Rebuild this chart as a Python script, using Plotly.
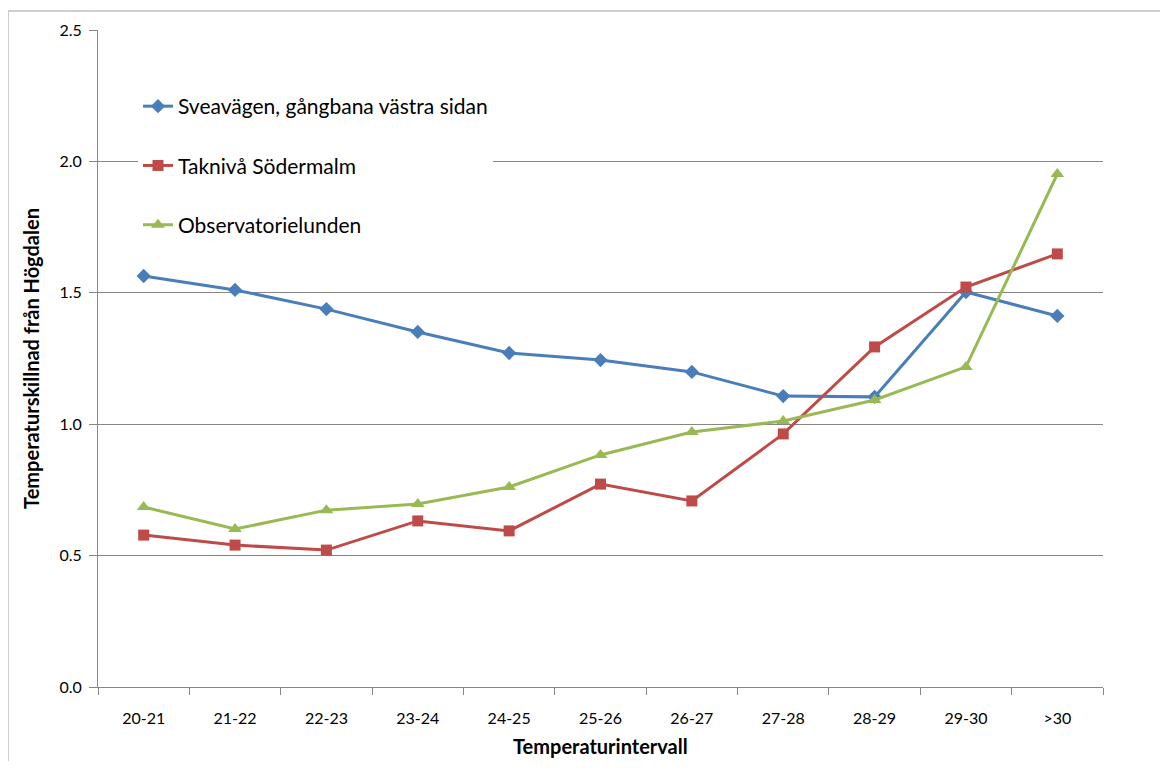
import plotly.graph_objects as go

categories = ["20-21", "21-22", "22-23", "23-24", "24-25", "25-26", "26-27", "27-28", "28-29", "29-30", ">30"]
svea = [1.564, 1.511, 1.438, 1.351, 1.271, 1.244, 1.199, 1.107, 1.104, 1.503, 1.412]
takniva = [0.578, 0.540, 0.521, 0.632, 0.594, 0.772, 0.708, 0.963, 1.294, 1.522, 1.648]
observ = [0.685, 0.601, 0.673, 0.696, 0.761, 0.883, 0.970, 1.012, 1.092, 1.218, 1.952]
y_ticks = [0.0, 0.5, 1.0, 1.5, 2.0, 2.5]
x_title = "Temperaturintervall"
y_title = "Temperaturskillnad från Högdalen"

# page body has an 8px margin on every side
OFF = 8
W, H = 1168 - 2 * OFF, 769 - 2 * OFF
L, T = 98 - OFF, 30 - OFF
R = (1168 - OFF) - 1103
B = (769 - OFF) - 687
pw, ph = W - L - R, H - T - B


def px_x(sx):
    return (sx - OFF - L) / pw


def px_y(sy):
    return (H - B - (sy - OFF)) / ph


FONT = "Lato, Carlito, 'Liberation Sans', sans-serif"

fig = go.Figure()
series = [
    ("Sveavägen, gångbana västra sidan", svea, "#4A7EBB", "diamond", 11),
    ("Taknivå Södermalm", takniva, "#BE4B48", "square", 11),
    ("Observatorielunden", observ, "#98B954", "triangle-up", 12),
]
for i, (name, vals, col, sym, sz) in enumerate(series):
    fig.add_trace(go.Scatter(
        x=categories, y=vals, name=name, mode="lines+markers",
        legendgroup=f"g{i}",
        line=dict(color=col, width=3),
        marker=dict(symbol=sym, size=sz, color=col),
    ))

fig.add_shape(type="rect", xref="paper", yref="paper",
              x0=px_x(8), x1=px_x(1190),
              y0=px_y(790), y1=px_y(11),
              line=dict(color="#BFBFBF", width=1.5), layer="below")

fig.add_annotation(text=f"<b>{x_title}</b>", xref="paper", yref="paper",
                   x=0.5, y=px_y(760), xanchor="center", yanchor="bottom",
                   showarrow=False, font=dict(size=20, family=FONT, color="#000000"))

fig.update_layout(
    width=W, height=H,
    margin=dict(l=L, r=R, t=T, b=B, autoexpand=False),
    paper_bgcolor="white", plot_bgcolor="white",
    font=dict(family=FONT, size=16, color="#000000"),
    showlegend=True,
    legend=dict(
        x=px_x(138), y=px_y(86), xanchor="left", yanchor="top",
        bgcolor="white", font=dict(size=21, family=FONT),
        tracegroupgap=29, traceorder="grouped", itemwidth=30,
    ),
    xaxis=dict(
        type="category", tickson="boundaries", ticks="outside", ticklen=7,
        tickcolor="#868686", showline=True, linecolor="#868686", linewidth=1,
        showgrid=False, tickfont=dict(size=16), ticklabelstandoff=17,
        range=[-0.5, 10.5], automargin=False,
    ),
    yaxis=dict(
        range=[0, 2.5], tickvals=y_ticks, ticktext=[f"{v:.1f}" for v in y_ticks],
        ticks="outside", ticklen=8, tickcolor="#868686", ticklabelstandoff=4,
        showline=True, linecolor="#868686", linewidth=1,
        showgrid=True, gridcolor="#868686", gridwidth=1,
        zeroline=False, tickfont=dict(size=16), automargin=False,
        title=dict(text=f"<b>{y_title}</b>", font=dict(size=20), standoff=14),
    ),
)

fig.write_html("out.html")
